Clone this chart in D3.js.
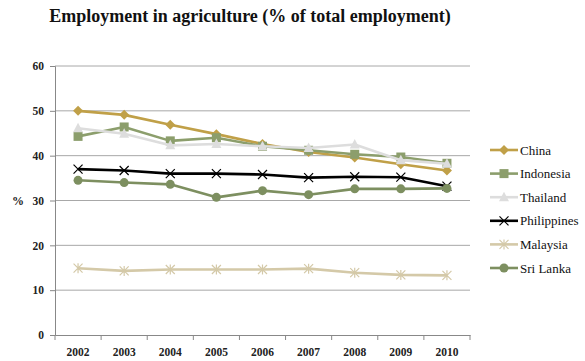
<script src="https://cdn.jsdelivr.net/npm/d3@7"></script>
<html>
<head>
    <meta charset="utf-8">
    <title>Employment in agriculture</title>
    <style>
        body { margin: 0; background: #fff; }
        text { font-family: "Liberation Serif", "DejaVu Serif", serif; }
    </style>
</head>
<body>
<script>
var years = ["2002", "2003", "2004", "2005", "2006", "2007", "2008", "2009", "2010"];
var yTicks = [0, 10, 20, 30, 40, 50, 60];
var seriesNames = ["China", "Indonesia", "Thailand", "Philippines", "Malaysia", "Sri Lanka"];
var china = [50.0, 49.1, 46.9, 44.8, 42.6, 40.8, 39.6, 38.1, 36.7];
var indonesia = [44.3, 46.4, 43.3, 44.0, 42.1, 41.2, 40.3, 39.7, 38.3];
var thailand = [46.1, 44.9, 42.3, 42.6, 42.1, 41.7, 42.5, 39.0, 38.2];
var philippines = [37.0, 36.7, 36.0, 36.0, 35.8, 35.1, 35.3, 35.2, 33.2];
var malaysia = [14.9, 14.3, 14.6, 14.6, 14.6, 14.8, 13.9, 13.4, 13.3];
var sriLanka = [34.5, 34.0, 33.6, 30.7, 32.2, 31.3, 32.6, 32.6, 32.7];

var values = [china, indonesia, thailand, philippines, malaysia, sriLanka];
var colors = ["#c0a048", "#8c9e6c", "#dddddd", "#000000", "#d4c9a8", "#7d8f60"];
var markers = ["diamond", "square", "triangle", "x", "star", "circle"];

var svg = d3.select("body").append("svg")
    .attr("width", 585)
    .attr("height", 361);

var plotLeft = 55, plotRight = 470, plotTop = 66, plotBottom = 335;

var x = d3.scaleBand().domain(years).range([plotLeft, plotRight]);
var y = d3.scaleLinear().domain([0, 60]).range([plotBottom, plotTop]);

// title
svg.append("text")
    .attr("x", 250).attr("y", 22)
    .attr("text-anchor", "middle")
    .attr("font-weight", "bold")
    .attr("font-size", 18)
    .attr("fill", "#111")
    .text("Employment in agriculture (% of total employment)");

// gridlines
svg.append("g").selectAll("line").data(yTicks.filter(function (d) { return d > 0; }))
    .enter().append("line")
    .attr("x1", plotLeft).attr("x2", plotRight)
    .attr("y1", function (d) { return y(d); })
    .attr("y2", function (d) { return y(d); })
    .attr("stroke", "#a8a8a8").attr("stroke-width", 1);

// y axis
var yAxis = svg.append("g")
    .attr("transform", "translate(" + plotLeft + ",0)")
    .call(d3.axisLeft(y).tickValues(yTicks).tickSize(5).tickPadding(6));
yAxis.select(".domain").attr("stroke", "#888");
yAxis.selectAll(".tick line").attr("stroke", "#888");
yAxis.selectAll("text").attr("font-size", 11.5).attr("fill", "#222")
    .attr("font-weight", "bold")
    .style("font-family", "'Liberation Serif', serif");

// x axis
var xAxis = svg.append("g")
    .attr("transform", "translate(0," + plotBottom + ")")
    .call(d3.axisBottom(x).tickSize(0).tickPadding(13));
xAxis.select(".domain").attr("stroke", "#888");
xAxis.selectAll("text").attr("font-size", 11.5).attr("fill", "#222")
    .attr("font-weight", "bold")
    .style("font-family", "'Liberation Serif', serif");
// tick marks between categories
svg.append("g").selectAll("line").data(d3.range(years.length + 1))
    .enter().append("line")
    .attr("x1", function (i) { return plotLeft + i * x.step(); })
    .attr("x2", function (i) { return plotLeft + i * x.step(); })
    .attr("y1", plotBottom).attr("y2", plotBottom + 5)
    .attr("stroke", "#888");

svg.append("text")
    .attr("x", 12).attr("y", 205)
    .attr("font-size", 12).attr("font-weight", "bold").attr("fill", "#222")
    .text("%");

function drawMarker(g, type, color, cx, cy) {
    if (type == "diamond") {
        g.append("path").attr("d", "M" + cx + "," + (cy - 5) + "L" + (cx + 5) + "," + cy + "L" + cx + "," + (cy + 5) + "L" + (cx - 5) + "," + cy + "Z")
            .attr("fill", color);
    } else if (type == "square") {
        g.append("rect").attr("x", cx - 4.5).attr("y", cy - 4.5).attr("width", 9).attr("height", 9).attr("fill", color);
    } else if (type == "triangle") {
        g.append("path").attr("d", "M" + cx + "," + (cy - 5.5) + "L" + (cx + 5) + "," + (cy + 4) + "L" + (cx - 5) + "," + (cy + 4) + "Z")
            .attr("fill", color);
    } else if (type == "x") {
        g.append("path").attr("d", "M" + (cx - 4.5) + "," + (cy - 4.5) + "L" + (cx + 4.5) + "," + (cy + 4.5) + "M" + (cx + 4.5) + "," + (cy - 4.5) + "L" + (cx - 4.5) + "," + (cy + 4.5))
            .attr("stroke", color).attr("stroke-width", 1.2).attr("fill", "none");
    } else if (type == "star") {
        g.append("path").attr("d", "M" + (cx - 4.5) + "," + (cy - 4.5) + "L" + (cx + 4.5) + "," + (cy + 4.5) + "M" + (cx + 4.5) + "," + (cy - 4.5) + "L" + (cx - 4.5) + "," + (cy + 4.5) + "M" + cx + "," + (cy - 5) + "L" + cx + "," + (cy + 5))
            .attr("stroke", color).attr("stroke-width", 1.2).attr("fill", "none");
    } else {
        g.append("circle").attr("cx", cx).attr("cy", cy).attr("r", 4.5).attr("fill", color);
    }
}

var line = d3.line()
    .x(function (d, i) { return x(years[i]) + x.bandwidth() / 2; })
    .y(function (d) { return y(d); });

for (var s = 0; s < values.length; s++) {
    var g = svg.append("g");
    g.append("path").datum(values[s])
        .attr("d", line)
        .attr("fill", "none")
        .attr("stroke", colors[s])
        .attr("stroke-width", 2.6)
        .attr("stroke-linejoin", "round");
    for (var i = 0; i < years.length; i++) {
        drawMarker(g, markers[s], colors[s], x(years[i]) + x.bandwidth() / 2, y(values[s][i]));
    }
}

// legend
for (var s = 0; s < seriesNames.length; s++) {
    var ly = 150 + s * 23.6;
    var lg = svg.append("g");
    lg.append("line").attr("x1", 490).attr("x2", 518).attr("y1", ly).attr("y2", ly)
        .attr("stroke", colors[s]).attr("stroke-width", 2.6);
    drawMarker(lg, markers[s], colors[s], 504, ly);
    lg.append("text").attr("x", 520).attr("y", ly + 4.5)
        .attr("font-size", 13).attr("fill", "#111")
        .text(seriesNames[s]);
}
</script>
</body>
</html>
